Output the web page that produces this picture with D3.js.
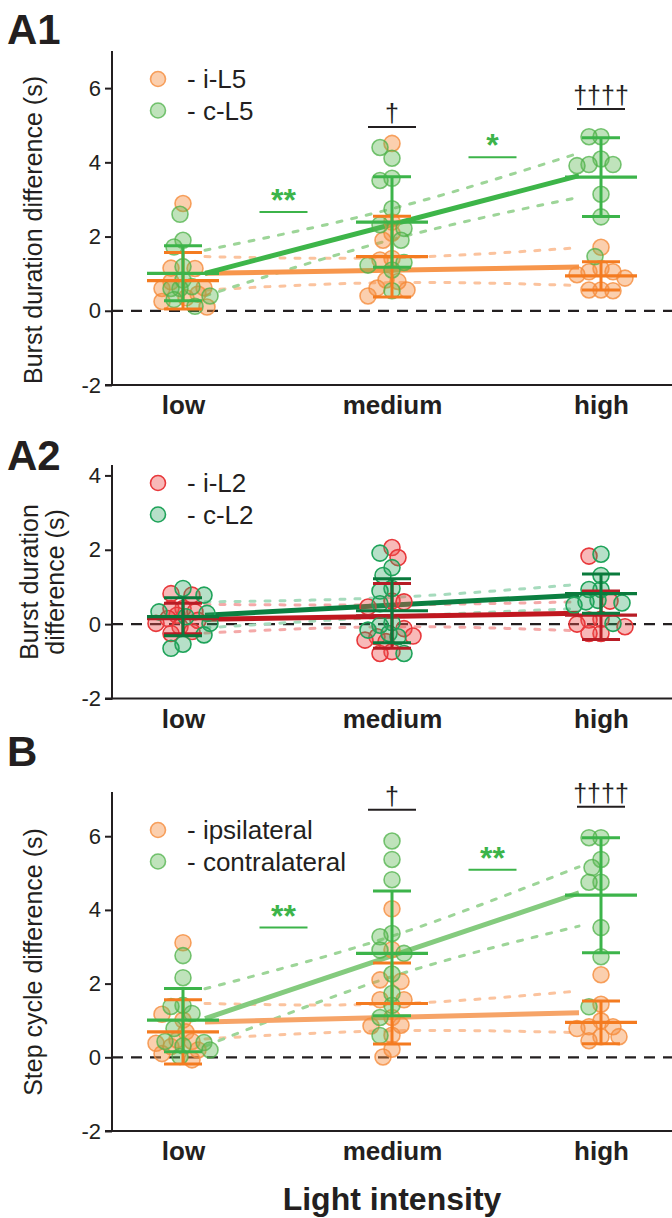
<!DOCTYPE html>
<html>
<head>
<meta charset="utf-8">
<script src="https://cdn.jsdelivr.net/npm/d3@7"></script>
<style>
  html, body { margin: 0; padding: 0; background: #fff; }
  svg { display: block; font-family: "Liberation Sans", Arial, Helvetica, sans-serif; }
</style>
</head>
<body>
<svg id="chart" width="672" height="1218"></svg>
<script>
// ---------- data ----------
const categories = ["low", "medium", "high"];

// A1: burst duration difference, L5 roots (values per category: low, medium, high)
const a1Ipsi = [
  [2.89, 1.15, 1.14, 0.78, 0.62, 0.6, 0.45, 0.35, 0.25, 0.1],
  [4.51, 2.39, 2.09, 1.9, 1.41, 1.37, 0.83, 0.79, 0.61, 0.56, 0.4],
  [1.71, 1.14, 1.05, 1.05, 0.97, 0.88, 0.56, 0.56, 0.54]
];
const a1Contra = [
  [2.6, 1.9, 1.72, 1.19, 0.83, 0.65, 0.6, 0.6, 0.4, 0.3, 0.12],
  [4.4, 4.11, 3.57, 3.51, 2.75, 2.32, 2.22, 1.9, 1.3, 1.23, 1.1, 0.54],
  [4.69, 4.69, 4.09, 3.94, 3.94, 3.91, 3.14, 2.53, 1.46]
];
const a1IpsiMean = [0.81, 1.46, 0.94];
const a1IpsiSD = [0.76, 1.09, 0.38];
const a1ContraMean = [1.01, 2.39, 3.6];
const a1ContraSD = [0.74, 1.22, 1.06];
const a1IpsiFit = [1.01, 1.18];
const a1ContraFit = [1.01, 3.64];
const a1IpsiCIUpper = [1.46, 1.43, 1.7];
const a1IpsiCILower = [0.56, 0.76, 0.68];
const a1ContraCIUpper = [1.63, 2.75, 4.25];
const a1ContraCILower = [0.4, 1.92, 3.06];

// A2: burst duration difference, L2 roots
const a2Ipsi = [
  [0.82, 0.78, 0.42, 0.42, 0.33, 0.24, 0.15, 0.1, 0.02, -0.07, -0.2, -0.25],
  [2.06, 1.79, 0.62, 0.6, 0.46, -0.12, -0.32, -0.34, -0.43, -0.47, -0.74, -0.79],
  [1.83, 0.62, 0.13, 0.11, 0, -0.07, -0.25, -0.25]
];
const a2Contra = [
  [0.96, 0.78, 0.33, 0.29, 0.2, 0.02, -0.29, -0.54, -0.65],
  [1.91, 1.52, 1.31, 0.96, 0.89, 0.55, 0.04, -0.03, -0.16, -0.25, -0.34, -0.79],
  [1.88, 1.31, 0.93, 0.93, 0.64, 0.6, 0.57, 0.51, 0.02]
];
const a2IpsiMean = [0.15, 0.22, 0.24];
const a2IpsiSD = [0.41, 0.87, 0.65];
const a2ContraMean = [0.2, 0.36, 0.82];
const a2ContraSD = [0.51, 0.86, 0.53];
const a2IpsiFit = [0.13, 0.29];
const a2ContraFit = [0.24, 0.78];
const a2IpsiCIUpper = [0.53, 0.52, 0.6];
const a2IpsiCILower = [-0.24, -0.07, -0.18];
const a2ContraCIUpper = [0.6, 0.72, 1.07];
const a2ContraCILower = [-0.1, 0.2, 0.42];

// B: step cycle difference
const bIpsi = [
  [3.11, 1.17, 1.01, 0.69, 0.47, 0.43, 0.38, 0.29, 0.2, 0.1, -0.07],
  [4.03, 2.92, 2.1, 2.06, 1.56, 1.56, 1.08, 0.87, 0.85, 0.6, 0.22, 0.01],
  [2.24, 1.44, 0.99, 0.83, 0.83, 0.78, 0.56, 0.56, 0.45]
];
const bContra = [
  [2.76, 2.16, 1.41, 1.38, 1.19, 0.78, 0.43, 0.4, 0.31, 0.2, 0.02],
  [5.87, 5.37, 4.82, 3.36, 3.27, 2.91, 2.82, 2.26, 1.73, 1.41, 1.08, 0.59],
  [5.96, 5.96, 5.37, 5.15, 4.75, 4.75, 3.52, 2.73, 1.37]
];
const bIpsiMean = [0.69, 1.46, 0.95];
const bIpsiSD = [0.87, 1.1, 0.58];
const bContraMean = [1.01, 2.82, 4.4];
const bContraSD = [0.86, 1.69, 1.56];
const bIpsiFit = [0.96, 1.21];
const bContraFit = [1.05, 4.46];
const bIpsiCIUpper = [1.46, 1.45, 1.8];
const bIpsiCILower = [0.5, 0.72, 0.67];
const bContraCIUpper = [1.86, 3.29, 5.17];
const bContraCILower = [0.3, 2.19, 3.56];

// significance markers: [text, position between categories (0 = low, 2 = high), y value of underline, colour key]
const a1Marks = [["**", 0.5, 2.66, "contra"], ["*", 1.5, 4.14, "contra"], ["\u2020", 1, 4.95, "black"], ["\u2020\u2020\u2020\u2020", 2, 5.44, "black"]];
const bMarks = [["**", 0.5, 3.52, "contra"], ["**", 1.5, 5.09, "contra"], ["\u2020", 1, 6.72, "black"], ["\u2020\u2020\u2020\u2020", 2, 6.8, "black"]];

const a1Ticks = [-2, 0, 2, 4, 6];
const a2Ticks = [-2, 0, 2, 4];
const bTicks = [-2, 0, 2, 4, 6];

// ---------- styles ----------
const palL5 = {
  ipsi:   { fill: "rgba(246,140,62,0.42)", stroke: "rgba(245,140,60,0.8)", bar: "#f47b20", fit: "#f7964c", band: "#fbc39e" },
  contra: { fill: "rgba(96,184,86,0.40)", stroke: "rgba(78,178,72,0.75)", bar: "#3cb44a", fit: "#3db549", band: "#9dd598" }
};
const palL2 = {
  ipsi:   { fill: "rgba(238,80,78,0.40)", stroke: "#e8383b", bar: "#b71c25", fit: "#c0171f", band: "#f4a9a8" },
  contra: { fill: "rgba(46,165,98,0.35)", stroke: "#1fa35a", bar: "#0a7a3c", fit: "#0b7f41", band: "#a6dbbd" }
};
const palB = {
  ipsi:   { fill: "rgba(246,140,62,0.42)", stroke: "rgba(245,140,60,0.8)", bar: "#f47b20", fit: "#f6a468", band: "#fbc39e" },
  contra: { fill: "rgba(96,184,86,0.40)", stroke: "rgba(78,178,72,0.75)", bar: "#3cb44a", fit: "#84cb7e", band: "#9dd598" }
};

const panels = [
  { label: "A1", labelY: 44, yTop: 51, yBottom: 385, domain: [-2, 7], ticks: a1Ticks,
    title: ["Burst duration difference (s)"], titleY: 230, legend: ["- i-L5", "- c-L5"], legendY: 79,
    pal: palL5, ipsi: a1Ipsi, contra: a1Contra,
    ipsiMean: a1IpsiMean, ipsiSD: a1IpsiSD, contraMean: a1ContraMean, contraSD: a1ContraSD,
    ipsiFit: a1IpsiFit, contraFit: a1ContraFit,
    ipsiUp: a1IpsiCIUpper, ipsiLo: a1IpsiCILower, contraUp: a1ContraCIUpper, contraLo: a1ContraCILower,
    marks: a1Marks },
  { label: "A2", labelY: 470, yTop: 465, yBottom: 698.5, domain: [-2, 4.28], ticks: a2Ticks,
    title: ["Burst duration", "difference (s)"], titleY: 582, legend: ["- i-L2", "- c-L2"], legendY: 483,
    pal: palL2, ipsi: a2Ipsi, contra: a2Contra,
    ipsiMean: a2IpsiMean, ipsiSD: a2IpsiSD, contraMean: a2ContraMean, contraSD: a2ContraSD,
    ipsiFit: a2IpsiFit, contraFit: a2ContraFit,
    ipsiUp: a2IpsiCIUpper, ipsiLo: a2IpsiCILower, contraUp: a2ContraCIUpper, contraLo: a2ContraCILower,
    marks: [] },
  { label: "B", labelY: 766, yTop: 792, yBottom: 1131, domain: [-2, 7.2], ticks: bTicks,
    title: ["Step cycle difference (s)"], titleY: 962, legend: ["- ipsilateral", "- contralateral"], legendY: 830,
    pal: palB, ipsi: bIpsi, contra: bContra,
    ipsiMean: bIpsiMean, ipsiSD: bIpsiSD, contraMean: bContraMean, contraSD: bContraSD,
    ipsiFit: bIpsiFit, contraFit: bContraFit,
    ipsiUp: bIpsiCIUpper, ipsiLo: bIpsiCILower, contraUp: bContraCIUpper, contraLo: bContraCILower,
    marks: bMarks }
];

// ---------- drawing ----------
const svg = d3.select("#chart");
const axisX = 112, rightEdge = 672;
const x = d3.scalePoint().domain(categories).range([183, 601]);
const R = 8;
const meanHalf = 36, capHalf = 19, fitInset = 22;
const ink = "#231f20";

// compact deterministic beeswarm: each point takes the free offset nearest the centre,
// limited to a narrow strip; when the strip is full the least crowded offset is used
function swarm(items, y, minDist, maxOff) {
  const placed = [];
  const sorted = items.slice().sort((a, b) => d3.descending(a.v, b.v));
  const offs = d3.range(-maxOff, maxOff + 1, 3).sort((a, b) => Math.abs(a) - Math.abs(b));
  sorted.forEach(it => {
    const py = y(it.v);
    let best = null, bestGap = -1;
    for (const off of offs) {
      const gap = placed.length ? d3.min(placed, p => Math.hypot(p.dx - off, p.py - py)) : Infinity;
      if (gap >= minDist) { best = off; break; }
      if (gap > bestGap + 0.5) { bestGap = gap; best = off; }
    }
    placed.push({ dx: best, py: py, it: it });
  });
  return placed;
}

panels.forEach(P => {
  const y = d3.scaleLinear().domain(P.domain).range([P.yBottom, P.yTop]);
  const g = svg.append("g");

  // panel letter
  g.append("text").attr("x", 7).attr("y", P.labelY)
    .attr("font-size", 42).attr("font-weight", "bold").attr("fill", ink).text(P.label);

  // axes
  const yAxis = d3.axisLeft(y).tickValues(P.ticks).tickSize(7).tickPadding(4).tickFormat(d => String(d));
  const ya = g.append("g").attr("transform", `translate(${axisX},0)`).call(yAxis);
  ya.select(".domain").attr("stroke", ink).attr("stroke-width", 2).attr("d", `M-7,${P.yBottom}H0V${P.yTop}`);
  ya.selectAll(".tick line").attr("stroke", ink).attr("stroke-width", 2);
  ya.selectAll(".tick text").attr("font-size", 22).attr("fill", ink).attr("font-family", null);

  const xAxis = d3.axisBottom(x).tickSize(0).tickPadding(11);
  const xa = g.append("g").attr("transform", `translate(0,${P.yBottom})`).call(xAxis);
  xa.select(".domain").attr("stroke", ink).attr("stroke-width", 2).attr("d", `M${axisX},0H${rightEdge}`);
  xa.selectAll(".tick text").attr("font-size", 26).attr("font-weight", "bold").attr("fill", ink)
    .attr("font-family", null).attr("dy", "0.71em");

  // y title
  P.title.forEach((t, i) => {
    const tx = P.title.length === 1 ? 42 : 38 + i * 26;
    g.append("text").attr("transform", `translate(${tx},${P.titleY}) rotate(-90)`)
      .attr("text-anchor", "middle").attr("font-size", 25).attr("fill", ink).text(t);
  });

  // zero line
  g.append("line").attr("x1", axisX).attr("x2", rightEdge).attr("y1", y(0)).attr("y2", y(0))
    .attr("stroke", ink).attr("stroke-width", 2.2).attr("stroke-dasharray", "11,8");

  const x0 = x("low") + fitInset, x2 = x("high") - fitInset;
  const bandX = [x0, x("medium"), x2];

  // confidence bands of the fits
  const bandLine = d3.line().x((d, i) => bandX[i]).y(d => y(d)).curve(d3.curveNatural);
  [["ipsi", P.ipsiUp], ["ipsi", P.ipsiLo], ["contra", P.contraUp], ["contra", P.contraLo]].forEach(([s, arr]) => {
    g.append("path").attr("d", bandLine(arr)).attr("fill", "none")
      .attr("stroke", P.pal[s].band).attr("stroke-width", 3).attr("stroke-dasharray", "5,10")
      .attr("stroke-linecap", "round");
  });

  // fitted lines
  const fitLine = d3.line().x((d, i) => i === 0 ? x0 : x2).y(d => y(d));
  [["ipsi", P.ipsiFit], ["contra", P.contraFit]].forEach(([s, arr]) => {
    g.append("path").attr("d", fitLine(arr)).attr("fill", "none")
      .attr("stroke", P.pal[s].fit).attr("stroke-width", 5);
  });

  // individual points
  categories.forEach((c, ci) => {
    const items = P.ipsi[ci].map(v => ({ v, s: "ipsi" })).concat(P.contra[ci].map(v => ({ v, s: "contra" })));
    const placed = swarm(items, y, 11, 27);
    ["ipsi", "contra"].forEach(s => {
      g.selectAll(null).data(placed.filter(p => p.it.s === s)).join("circle")
        .attr("cx", p => x(c) + p.dx).attr("cy", p => y(p.it.v)).attr("r", R)
        .attr("fill", P.pal[s].fill).attr("stroke", P.pal[s].stroke).attr("stroke-width", 1.6);
    });
  });

  // mean ± SD
  [["ipsi", P.ipsiMean, P.ipsiSD], ["contra", P.contraMean, P.contraSD]].forEach(([s, m, sd]) => {
    const col = P.pal[s].bar;
    categories.forEach((c, ci) => {
      const cx = x(c), top = y(m[ci] + sd[ci]), bot = y(m[ci] - sd[ci]), my = y(m[ci]);
      g.append("line").attr("x1", cx).attr("x2", cx).attr("y1", top).attr("y2", bot).attr("stroke", col).attr("stroke-width", 3);
      g.append("line").attr("x1", cx - capHalf).attr("x2", cx + capHalf).attr("y1", top).attr("y2", top).attr("stroke", col).attr("stroke-width", 3);
      g.append("line").attr("x1", cx - capHalf).attr("x2", cx + capHalf).attr("y1", bot).attr("y2", bot).attr("stroke", col).attr("stroke-width", 3);
      g.append("line").attr("x1", cx - meanHalf).attr("x2", cx + meanHalf).attr("y1", my).attr("y2", my).attr("stroke", col).attr("stroke-width", 3.2);
    });
  });

  // legend
  ["ipsi", "contra"].forEach((s, i) => {
    const ly = P.legendY + i * 31.5;
    g.append("circle").attr("cx", 158).attr("cy", ly).attr("r", 7.5)
      .attr("fill", P.pal[s].fill).attr("stroke", P.pal[s].stroke).attr("stroke-width", 1.6);
    g.append("text").attr("x", 187).attr("y", ly).attr("dy", "0.36em")
      .attr("font-size", 26).attr("fill", ink).text(P.legend[i]);
  });

  // significance markers
  const xs = d3.scaleLinear().domain([0, 2]).range([x("low"), x("high")]);
  P.marks.forEach(([t, pos, v, key]) => {
    const col = key === "black" ? ink : "#3cb44a";
    const cx = xs(pos) + (key === "black" ? 0 : -4);
    const half = 24;
    g.append("line").attr("x1", cx - half).attr("x2", cx + half).attr("y1", y(v)).attr("y2", y(v))
      .attr("stroke", col).attr("stroke-width", 2);
    g.append("text").attr("x", cx).attr("y", y(v) - (key === "black" ? 5 : 1))
      .attr("text-anchor", "middle").attr("fill", col)
      .attr("font-size", key === "black" ? 25 : 32).attr("font-weight", key === "black" ? "normal" : "bold")
      .text(t);
  });
});

// shared x title
svg.append("text").attr("x", 392).attr("y", 1210).attr("text-anchor", "middle")
  .attr("font-size", 32).attr("font-weight", "bold").attr("fill", ink).text("Light intensity");
</script>
</body>
</html>
